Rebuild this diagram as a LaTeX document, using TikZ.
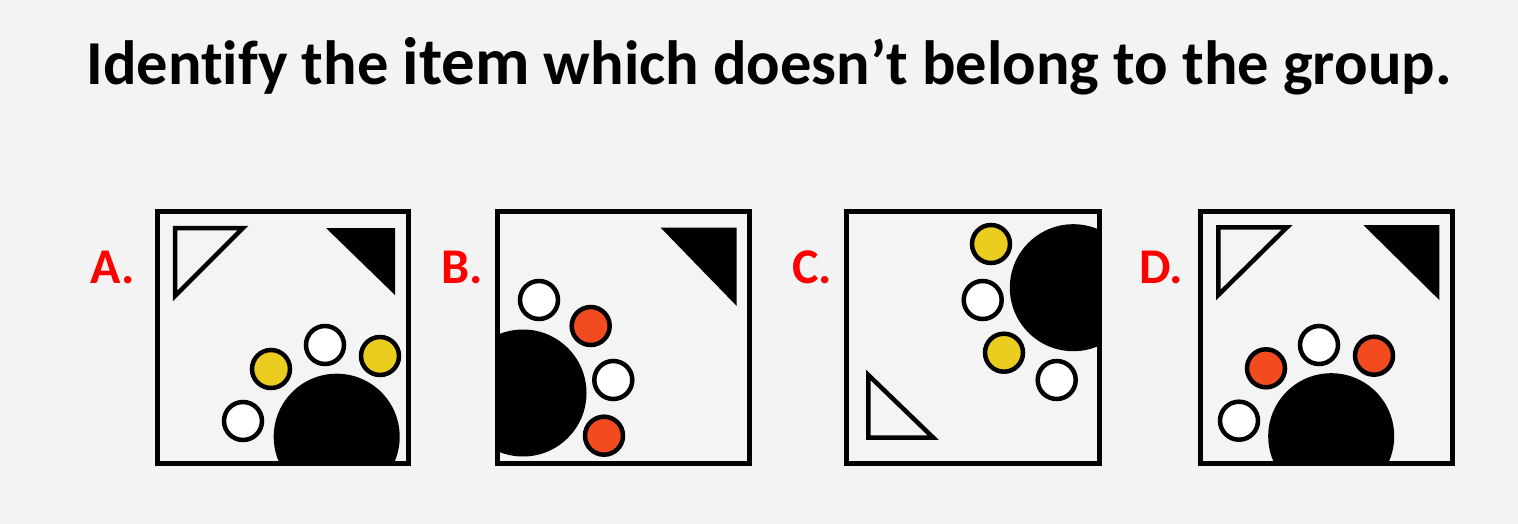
\documentclass[tikz,border=0pt]{standalone}
\usepackage{fontspec}
\setmainfont{Carlito}[Ligatures=NoCommon]
\definecolor{bg}{HTML}{F3F3F3}
\definecolor{boxbg}{HTML}{F4F4F4}
\definecolor{yel}{HTML}{EBCD1F}
\definecolor{org}{HTML}{F24B1F}
\definecolor{lab}{HTML}{FF0000}
\tikzset{
  panel/.style={draw=black, line width=5pt, fill=boxbg},
  sc/.style={circle, draw=black, line width=4.5pt, minimum size=38pt, inner sep=0pt},
  bigc/.style={fill=black},
  otri/.style={draw=black, line width=4.5pt, line join=miter},
  ftri/.style={fill=black},
  letter/.style={text=lab, font=\bfseries\fontsize{50}{60}\selectfont, anchor=center},
}
\begin{document}
\begin{tikzpicture}[x=1pt,y=-1pt]
\useasboundingbox[fill=bg] (0,0) rectangle (1518,524);
\node[anchor=base, inner sep=0pt, font=\bfseries\fontsize{62.5}{72}\selectfont] (title) at (769,85) {Identify the {\fontsize{67}{72}\selectfont item} which doesn’t belong to the group.};

% ---------- A ----------
\node[letter] (la) at (113,267) {A.};
\draw[panel] (157.5,211.5) rectangle (408.5,463.5);
\begin{scope}
\clip (160,214) rectangle (406,461);
\fill[bigc] (336.7,436.7) circle (63);
\end{scope}
\draw[otri] (175,228) -- (243,228) -- (175,296) -- cycle;
\fill[ftri] (326,228) -- (395,228) -- (395,295) -- cycle;
\node[sc, fill=yel] (a1) at (271,369) {};
\node[sc, fill=white] (a2) at (325,345) {};
\node[sc, fill=yel] (a3) at (380,356) {};
\node[sc, fill=white] (a4) at (243,421) {};

% ---------- B ----------
\node[letter] (lb) at (462,267) {B.};
\draw[panel] (497.5,211.5) rectangle (749.5,463.5);
\begin{scope}
\clip (500,214) rectangle (747,461);
\fill[bigc] (523,393) circle (63.5);
\end{scope}
\fill[ftri] (660.7,227.7) -- (736.7,227.7) -- (736.7,306) -- cycle;
\node[sc, fill=white] (b1) at (539,300) {};
\node[sc, fill=org] (b2) at (590.7,326) {};
\node[sc, fill=white] (b3) at (613.3,380) {};
\node[sc, fill=org] (b4) at (604,435.7) {};

% ---------- C ----------
\node[letter] (lc) at (812,267) {C.};
\draw[panel] (846.5,211.5) rectangle (1099.5,463.5);
\begin{scope}
\clip (849,214) rectangle (1097,461);
\fill[bigc] (1073.3,287.7) circle (63.5);
\end{scope}
\node[sc, fill=yel] (c1) at (991,244) {};
\node[sc, fill=white] (c2) at (982.7,300) {};
\node[sc, fill=yel] (c3) at (1004,352.7) {};
\node[sc, fill=white] (c4) at (1056.7,380) {};
\draw[otri] (868.3,375) -- (868.3,437.7) -- (933.3,437.7) -- cycle;

% ---------- D ----------
\node[letter] (ld) at (1161,267) {D.};
\draw[panel] (1200.5,211.5) rectangle (1452.5,463.5);
\begin{scope}
\clip (1203,214) rectangle (1450,461);
\fill[bigc] (1331.2,436.2) circle (63);
\end{scope}
\draw[otri] (1218.3,227.3) -- (1287,227.3) -- (1218.3,295) -- cycle;
\fill[ftri] (1363.3,225) -- (1439.3,225) -- (1439.3,300) -- cycle;
\node[sc, fill=org] (d1) at (1266,368.3) {};
\node[sc, fill=white] (d2) at (1319,345) {};
\node[sc, fill=org] (d3) at (1374,355.7) {};
\node[sc, fill=white] (d4) at (1239,420.7) {};
\end{tikzpicture}
\end{document}
